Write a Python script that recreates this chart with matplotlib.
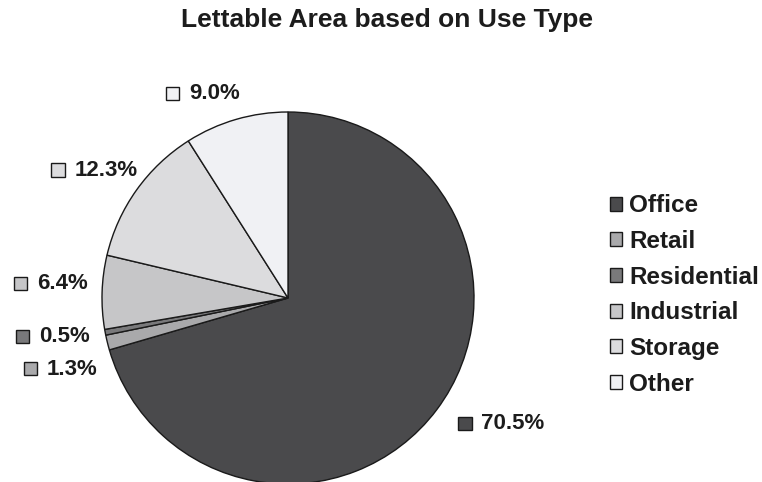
"""Pie chart of lettable area split by use type."""

import matplotlib
matplotlib.use("Agg")
import numpy as np
import matplotlib.pyplot as plt
from matplotlib.patches import Rectangle
from matplotlib.offsetbox import AnnotationBbox, DrawingArea, HPacker, TextArea

plt.rcParams["font.family"] = ["Liberation Sans", "DejaVu Sans"]
plt.rcParams["font.weight"] = "bold"

# Data
use_types = ["Office", "Retail", "Residential", "Industrial", "Storage", "Other"]
shares = [70.5, 1.3, 0.5, 6.4, 12.3, 9.0]
colors = ["#4a4a4c", "#a9a9ab", "#79797b", "#c6c6c8", "#dcdcde", "#f0f1f4"]
# small nudges (pixels) so the labels of thin slices do not collide
label_nudge = [(6, -3), (8, -22), (3, -1), (4, 8), (16, 9), (9, 8)]

TEXT = "#1c1c1c"
fig = plt.figure(figsize=(7.62, 4.82), dpi=100)
W, H = 762, 482
cx, cy, r = 288, 298, 186
ax = fig.add_axes([(cx - r) / W, (H - cy - r) / H, 2 * r / W, 2 * r / H])

wedges, _ = ax.pie(
    shares,
    colors=colors,
    startangle=90,
    counterclock=False,
    radius=1.0,
    wedgeprops=dict(edgecolor="#1a1a1a", linewidth=1.0),
)
ax.set_xlim(-1, 1)
ax.set_ylim(-1, 1)
ax.set_aspect("equal")
ax.set_axis_off()
for w in wedges:
    w.set_clip_on(False)

# Percentage labels with a small coloured square in front
label_dist = 1.1
for w, val, col, nudge in zip(wedges, shares, colors, label_nudge):
    mid = np.deg2rad((w.theta1 + w.theta2) / 2)
    x, y = label_dist * np.cos(mid), label_dist * np.sin(mid)
    da = DrawingArea(10, 10, 0, 0)
    da.add_artist(Rectangle((0.5, 0.5), 9.5, 9.5, facecolor=col, edgecolor="#1a1a1a", lw=1))
    txt = TextArea(f"{val:.1f}%", textprops=dict(fontsize=16, fontweight="bold", color=TEXT))
    box = HPacker(children=[da, txt], align="center", pad=0, sep=7)
    align = (1.0, 0.5) if np.cos(mid) < 0 else (0.0, 0.5)
    ab = AnnotationBbox(box, (x, y), xycoords="data", xybox=nudge,
                        boxcoords="offset pixels", frameon=False,
                        box_alignment=align, pad=0, annotation_clip=False)
    ax.add_artist(ab)

fig.text(387 / W, 1 - 27 / H, "Lettable Area based on Use Type", ha="center", va="baseline",
         fontsize=19, fontweight="bold", color=TEXT)

fig.legend(
    wedges, use_types,
    loc="center left",
    bbox_to_anchor=(588 / W, 1 - 295 / H),
    frameon=False,
    fontsize=17.5,
    handlelength=0.5,
    handleheight=0.5,
    handletextpad=0.3,
    labelspacing=0.52,
    labelcolor=TEXT,
)

fig.savefig("out.png", dpi=100)
